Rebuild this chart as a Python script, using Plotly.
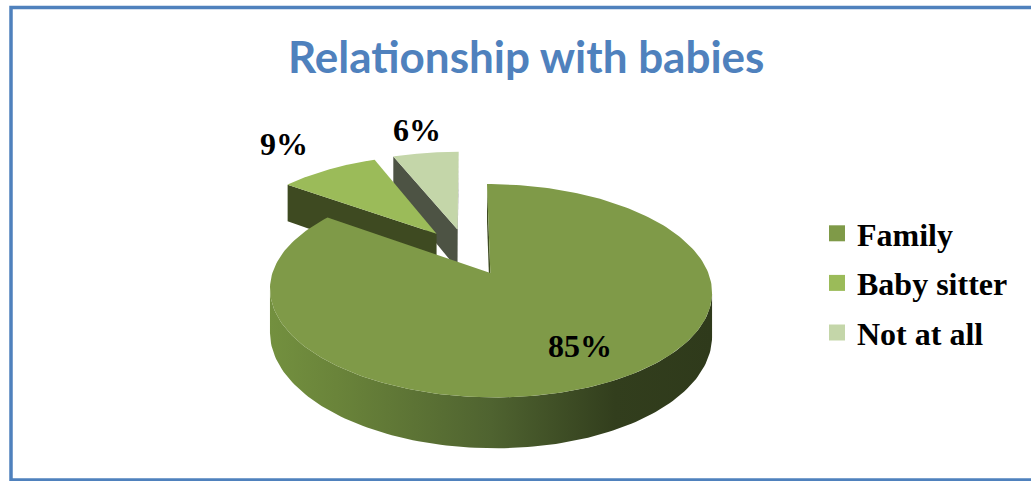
import numpy as np
import plotly.graph_objects as go

# ---- data -------------------------------------------------------------
categories = ["Family", "Baby sitter", "Not at all"]
shares = [85, 9, 6]

# ---- styling ----------------------------------------------------------
top_colors = ["#7F9A48", "#9BBB59", "#C4D6A9"]
cut_colors = ["#3F4C22", "#3E4A21", "#4D5344"]
band_scale = [[0.0, "#73903F"], [0.15, "#6A843A"], [0.5, "#4F6330"],
              [0.78, "#323E1D"], [1.0, "#2F3A1B"]]
label_pos = [(580, 346), (284, 144), (417, 130)]
BLUE = "#4F81BD"

# projection of the tilted disc (unit radius) onto the page
CX, CY = 466.6, 251.6      # page position of the pie centre
A, B = 210.5, 96.8         # horizontal / vertical scale
K = 0.16                   # perspective strength
D = 41.0                   # thickness of the disc
EXPLODE = 0.24             # distance each slice is pulled out
CAM = np.array([0.0, -1.0 / K])


def project(X, Z, drop=0.0):
    w = 1.0 + K * np.asarray(Z)
    return CX + A * np.asarray(X) / w, CY - B * np.asarray(Z) / w + drop * D / w


def poly_trace(xs, ys, color, **kw):
    return go.Scatter(x=np.append(xs, xs[0]), y=np.append(ys, ys[0]),
                      mode="lines", fill="toself", fillcolor=color,
                      line=dict(width=0, color=color), hoverinfo="skip",
                      showlegend=False, **kw)


def face_visible(normal, point):
    return float(np.dot(normal, CAM - point)) > 0


total = float(sum(shares))
bounds = np.concatenate([[0.0], np.cumsum(shares) / total * 2 * np.pi])

fig = go.Figure()

# paint from the back (last slices) to the front (first slice)
for i in reversed(range(len(shares))):
    s, e = bounds[i], bounds[i + 1]
    mid = 0.5 * (s + e)
    off = EXPLODE * np.array([np.sin(mid), np.cos(mid)])
    phi = np.linspace(s, e, 240)
    rimX = off[0] + np.sin(phi)
    rimZ = off[1] + np.cos(phi)

    # outer curved side (front facing part only)
    vis = np.array([face_visible(np.array([np.sin(p), np.cos(p)]),
                                 np.array([x, z])) for p, x, z in zip(phi, rimX, rimZ)])
    if vis.any():
        idx = np.where(vis)[0]
        runs = np.split(idx, np.where(np.diff(idx) > 1)[0] + 1)
        for r in runs:
            tx, ty = project(rimX[r], rimZ[r])
            bx, by = project(rimX[r], rimZ[r], 1.0)
            xs = np.concatenate([tx, bx[::-1]])
            ys = np.concatenate([ty, by[::-1]])
            fig.add_trace(go.Scatter(
                x=np.append(xs, xs[0]), y=np.append(ys, ys[0]), mode="lines",
                fill="toself", line=dict(width=0),
                fillgradient=dict(type="horizontal", colorscale=band_scale),
                hoverinfo="skip", showlegend=False))

    # flat cut faces at the start and end angle of the slice
    for ang, normal in ((s, np.array([-np.cos(s), np.sin(s)])),
                        (e, np.array([np.cos(e), -np.sin(e)]))):
        if face_visible(normal, off):
            pX = np.array([off[0], off[0] + np.sin(ang)])
            pZ = np.array([off[1], off[1] + np.cos(ang)])
            tx, ty = project(pX, pZ)
            bx, by = project(pX, pZ, 1.0)
            fig.add_trace(poly_trace(np.array([tx[0], tx[1], bx[1], bx[0]]),
                                     np.array([ty[0], ty[1], by[1], by[0]]),
                                     cut_colors[i]))

    # top face
    tx, ty = project(np.concatenate([[off[0]], rimX]),
                     np.concatenate([[off[1]], rimZ]))
    fig.add_trace(poly_trace(tx, ty, top_colors[i]))

# legend entries
for name, col in zip(categories, top_colors):
    fig.add_trace(go.Scatter(x=[None], y=[None], mode="markers", name=name,
                             legendgroup=name,
                             marker=dict(symbol="square", size=16, color=col)))

# percentage labels
pct = [round(v / total * 100) for v in shares]
for p, (lx, ly) in zip(pct, label_pos):
    fig.add_annotation(x=lx, y=ly, text=f"{p}%", showarrow=False,
                       font=dict(family="Liberation Serif", size=32,
                                 color="black", weight="bold"),
                       xanchor="center", yanchor="middle")

# title
fig.add_annotation(x=525.5, y=56, text="Relationship with babies", showarrow=False,
                   font=dict(family="Lato", size=44, color=BLUE, weight="bold"),
                   xanchor="center", yanchor="middle")

# frame
fig.add_shape(type="rect", x0=11, y0=7.5, x1=1045, y1=480,
              line=dict(color=BLUE, width=3.5), layer="above")

fig.update_layout(
    width=1031, height=481,
    margin=dict(l=0, r=0, t=0, b=0),
    paper_bgcolor="white", plot_bgcolor="white",
    xaxis=dict(range=[0, 1031], visible=False, fixedrange=True),
    yaxis=dict(range=[481, 0], visible=False, fixedrange=True),
    showlegend=True,
    legend=dict(x=817 / 1031, y=1 - 206 / 481, xanchor="left", yanchor="top",
                font=dict(family="Liberation Serif", size=32, color="black",
                          weight="bold"),
                tracegroupgap=5, bgcolor="rgba(0,0,0,0)"),
)

fig.write_html("out.html")
